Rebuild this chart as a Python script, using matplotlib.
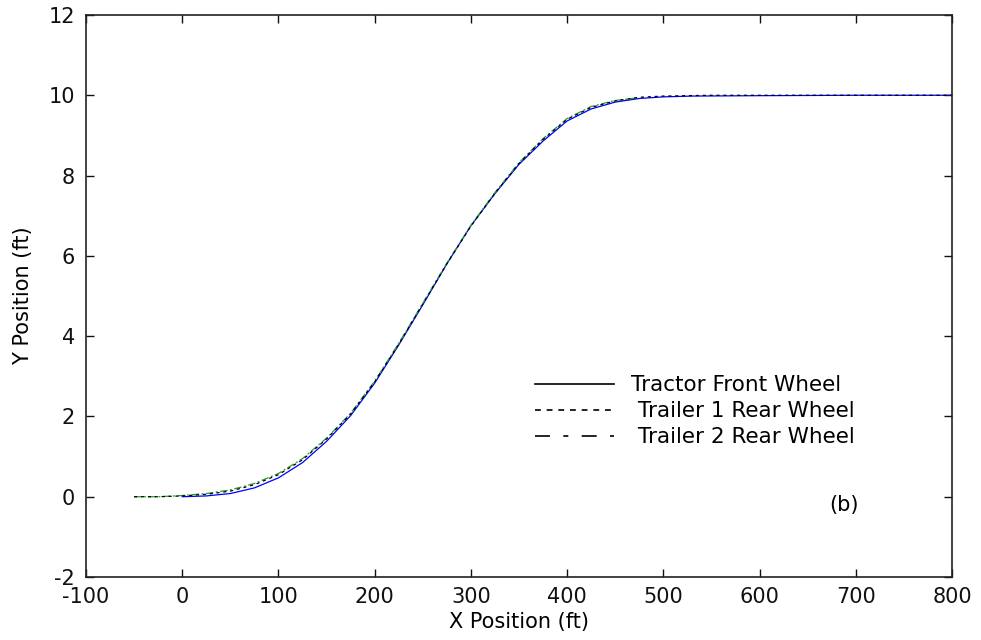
import matplotlib
matplotlib.use('Agg')
import matplotlib.pyplot as plt
from matplotlib.lines import Line2D

plt.rcParams['font.family'] = ['DejaVu Sans']
plt.rcParams['axes.unicode_minus'] = False

# Path data (ft)
x_tractor = [0, 25, 50, 75, 100, 125, 150, 175, 200, 225, 250, 275, 300,
             325, 350, 375, 400, 425, 450, 475, 500, 530, 600, 700, 780, 800]
y_tractor = [0.0, 0.02, 0.08, 0.22, 0.47, 0.85, 1.38, 2.02, 2.83, 3.78, 4.78,
             5.8, 6.75, 7.55, 8.28, 8.86, 9.36, 9.66, 9.83, 9.92, 9.96, 9.98,
             9.99, 10.0, 10.0, 10.0]

x_trailer1 = [-50, -25, 0, 25, 50, 75, 100, 125, 150, 175, 200, 225, 250,
              275, 300, 325, 350, 375, 400, 425, 450, 475, 500, 550, 600,
              650, 700, 750, 800]
y_trailer1 = [0.0, 0.0, 0.02, 0.06, 0.14, 0.3, 0.55, 0.92, 1.44, 2.06, 2.86,
              3.8, 4.8, 5.8, 6.74, 7.56, 8.3, 8.9, 9.4, 9.7, 9.86, 9.95, 9.98,
              10.0, 10.0, 10.0, 10.0, 10.0, 10.0]

x_trailer2 = [-50, -25, 0, 25, 50, 75, 100, 125, 150, 175, 200, 225, 250,
              275, 300, 325, 350, 375, 400, 425, 450, 475]
y_trailer2 = [0.0, 0.0, 0.03, 0.08, 0.17, 0.33, 0.58, 0.95, 1.46, 2.08, 2.88,
              3.82, 4.82, 5.82, 6.76, 7.58, 8.32, 8.92, 9.42, 9.72, 9.87, 9.94]

legend_labels = ['Tractor Front Wheel', ' Trailer 1 Rear Wheel', ' Trailer 2 Rear Wheel']

fig = plt.figure(figsize=(9.81, 6.40), dpi=100)
ax = fig.add_axes([0.0877, 0.0984, 0.8827, 0.8782])

ax.plot(x_tractor, y_tractor, color='#0000ff', linewidth=0.9)
ax.plot(x_trailer2, y_trailer2, color='#22a022', linewidth=0.9, linestyle=(0, (6, 2, 1.5, 2)))
ax.plot(x_trailer1, y_trailer1, color='black', linewidth=0.9, linestyle=(0, (2.5, 3)))

ax.set_xlim(-100, 800)
ax.set_ylim(-2, 12)
ax.set_xticks(range(-100, 801, 100))
ax.set_yticks(range(-2, 13, 2))
ax.tick_params(direction='in', length=6, width=1, top=True, right=True,
               labelsize=15, colors='#111111')
ax.tick_params(axis='x', pad=7.5)
ax.tick_params(axis='y', pad=8)
for s in ax.spines.values():
    s.set_linewidth(1.2)
    s.set_color('#222222')

ax.set_xlabel('X Position (ft)', fontsize=15, labelpad=3)
ax.set_ylabel('Y Position (ft)', fontsize=15, labelpad=11)

ax.text(688, -0.2, '(b)', fontsize=15, ha='center', va='center')

handles = [Line2D([], [], color='black', linewidth=1.2),
           Line2D([], [], color='black', linewidth=1.2, linestyle=(0, (3.5, 3.5))),
           Line2D([], [], color='black', linewidth=1.2, linestyle=(0, (9, 8, 3, 8)))]
ax.legend(handles, legend_labels, loc='center left', bbox_to_anchor=(0.518, 0.295),
          frameon=False, fontsize=15.5, handlelength=3.7, handletextpad=0.8,
          labelspacing=0.28, borderpad=0.0, borderaxespad=0.0)

fig.savefig('out.png', dpi=100)
